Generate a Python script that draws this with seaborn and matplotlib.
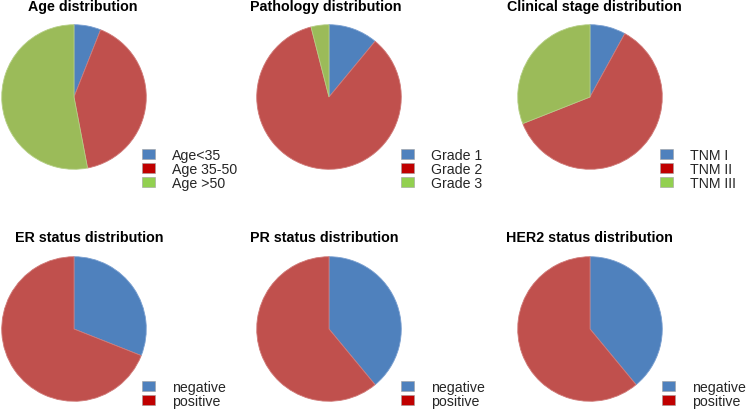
import matplotlib
matplotlib.use("Agg")
import matplotlib.pyplot as plt
import seaborn as sns
from matplotlib.patches import Patch

sns.set_theme(style="white")
plt.rcParams['font.family'] = ['Liberation Sans', 'DejaVu Sans']

# data (percent)
titles = ["Age distribution", "Pathology distribution", "Clinical stage distribution",
          "ER status distribution", "PR status distribution", "HER2 status distribution"]
age_labels = ["Age<35", "Age 35-50", "Age >50"]
age_values = [6, 41, 53]
grade_labels = ["Grade 1", "Grade 2", "Grade 3"]
grade_values = [11, 85, 4]
tnm_labels = ["TNM I", "TNM II", "TNM III"]
tnm_values = [8, 61, 31]
status_labels = ["negative", "positive"]
er_values = [31, 69]
pr_values = [39, 61]
her2_values = [39, 61]

pie_colors = ["#4F81BD", "#C0504D", "#9BBB59"]
edge_colors = ["#7A9FD0", "#D07A78", "#B5CF86"]
legend_colors = ["#4F81BD", "#C00000", "#92D050"]

panels = [
    (age_labels, age_values),
    (grade_labels, grade_values),
    (tnm_labels, tnm_values),
    (status_labels, er_values),
    (status_labels, pr_values),
    (status_labels, her2_values),
]

W, H = 746, 410
fig = plt.figure(figsize=(W / 100, H / 100), dpi=100)

# layout in pixels: pie centre, radius, title centre, legend top-left
pie_cx = [74, 329, 590, 74, 329, 590]
pie_cy = [98, 98, 98, 330, 330, 330]
radius = 73
title_cx = [83, 326, 594, 89, 324, 589]
title_cy = [7, 7, 7, 238, 238, 238]
legend_x = [142, 401, 660, 142, 401, 662]
legend_y = [149, 149, 149, 381, 381, 381]

for i, (labels, values) in enumerate(panels):
    cx, cy = pie_cx[i], pie_cy[i]
    ax = fig.add_axes([(cx - radius) / W, 1 - (cy + radius) / H, 2 * radius / W, 2 * radius / H])
    n = len(values)
    wedges, _ = ax.pie(values, colors=pie_colors[:n], startangle=90, counterclock=False,
                       radius=1.0, wedgeprops=dict(linewidth=0.6))
    for w, ec in zip(wedges, edge_colors[:n]):
        w.set_edgecolor(ec)
    ax.set_xlim(-1.01, 1.01)
    ax.set_ylim(-1.01, 1.01)
    ax.set_aspect("equal")
    ax.axis("off")

    fig.text(title_cx[i] / W, 1 - title_cy[i] / H, titles[i], ha="center", va="center",
             fontsize=10.3, fontweight="bold", color="black")

    handles = [Patch(facecolor=c, edgecolor="#A0A0A0", linewidth=0.4) for c in legend_colors[:n]]
    fig.legend(handles, labels, loc="upper left",
               bbox_to_anchor=(legend_x[i] / W, 1 - legend_y[i] / H),
               frameon=False, fontsize=10.2, handlelength=0.94, handleheight=0.68,
               handletextpad=1.2, labelspacing=0.0, borderpad=0, borderaxespad=0)

fig.savefig("out.png", dpi=100, facecolor="white")
